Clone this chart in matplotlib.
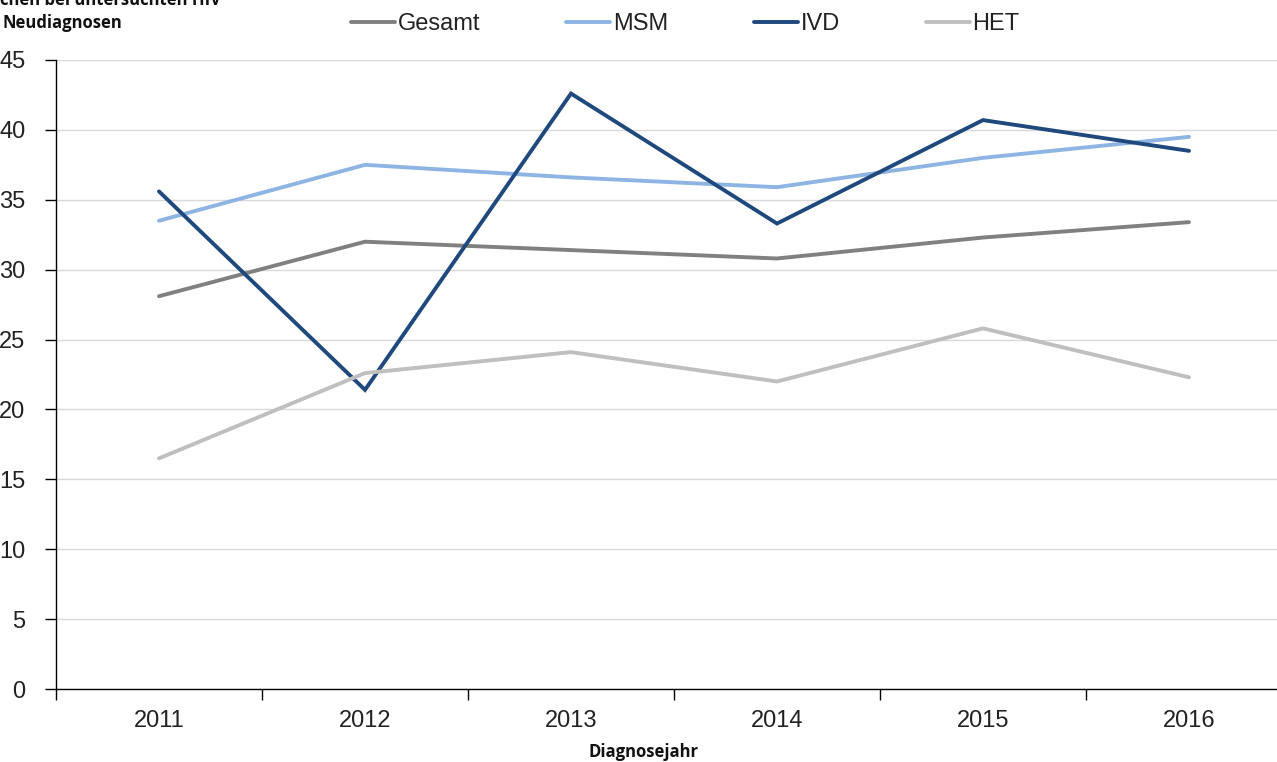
import matplotlib
matplotlib.use("Agg")
import matplotlib.pyplot as plt
from matplotlib import font_manager as fm

years = ["2011", "2012", "2013", "2014", "2015", "2016"]
gesamt = [28.1, 32.0, 31.4, 30.8, 32.3, 33.4]
msm = [33.5, 37.5, 36.6, 35.9, 38.0, 39.5]
ivd = [35.6, 21.4, 42.6, 33.3, 40.7, 38.5]
het = [16.5, 22.6, 24.1, 22.0, 25.8, 22.3]
series_names = ["Gesamt", "MSM", "IVD", "HET"]
colors = ["#808080", "#8EB4E3", "#1F497D", "#BFBFBF"]
yticks = [0, 5, 10, 15, 20, 25, 30, 35, 40, 45]

names = {f.name for f in fm.fontManager.ttflist}
narrow = "Liberation Sans Narrow" if "Liberation Sans Narrow" in names else "Liberation Sans"

fig = plt.figure(figsize=(12.77, 7.62), dpi=100)
ax = fig.add_axes([56/1277, 73/762, 1236/1277, 629/762])

x = list(range(len(years)))
for vals, name, c in zip([gesamt, msm, ivd, het], series_names, colors):
    ax.plot(x, vals, color=c, lw=2.8, label=name, solid_capstyle="round", solid_joinstyle="miter")

ax.set_xlim(-0.5, len(years) - 0.5)
ax.set_ylim(0, 45)
ax.set_yticks(yticks)
ax.set_yticklabels([str(v) for v in yticks], fontfamily=narrow, fontsize=17, color="#222222")
ax.yaxis.grid(True, color="#D9D9D9", lw=1)
ax.set_axisbelow(True)

ax.set_xticks([i - 0.5 for i in range(len(years) + 1)])
ax.set_xticklabels([])
ax.set_xticks(x, minor=True)
ax.set_xticklabels(years, minor=True, fontfamily=narrow, fontsize=17, color="#222222")
ax.tick_params(axis="x", which="major", length=8, width=1, direction="out")
ax.tick_params(axis="x", which="minor", length=0, pad=15)
ax.tick_params(axis="y", length=8, width=1, pad=14)

for s in ["top", "right"]:
    ax.spines[s].set_visible(False)
for s in ["left", "bottom"]:
    ax.spines[s].set_color("black")
    ax.spines[s].set_linewidth(1)

leg = ax.legend(loc="center left", bbox_to_anchor=(351/1277, 1 - 24/762), bbox_transform=fig.transFigure,
                ncol=4, frameon=False, handlelength=1.85, handletextpad=0.12, columnspacing=3.65,
                prop={"family": narrow, "size": 17}, borderaxespad=0, borderpad=0)
for t in leg.get_texts():
    t.set_color("#222222")

fig.text(0, 1 - 5/762, "chen bei untersuchten HIV", fontfamily="Open Sans", fontweight="bold",
         fontsize=12, ha="left", va="baseline", color="#111111")
fig.text(3/1277, 1 - 28/762, "Neudiagnosen", fontfamily="Open Sans", fontweight="bold",
         fontsize=12, ha="left", va="baseline", color="#111111")
fig.text(644/1277, 1 - 757/762, "Diagnosejahr", fontfamily="Open Sans", fontweight="bold",
         fontsize=12, ha="center", va="baseline", color="#111111")

fig.savefig("out.png", dpi=100)
